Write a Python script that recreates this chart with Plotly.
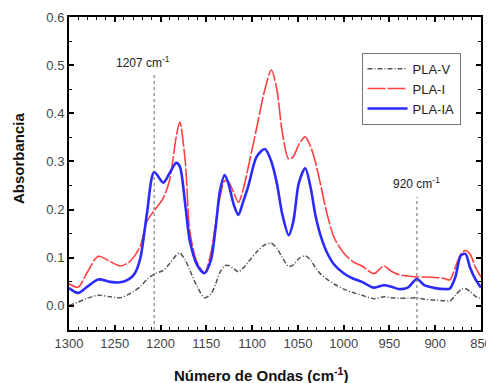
import plotly.graph_objects as go

wavenumber = [1300, 1290, 1280, 1268, 1255, 1244, 1235, 1228, 1222, 1215, 1207, 1197, 1190,
              1183, 1179, 1173, 1168, 1160, 1152, 1145, 1140, 1135, 1130, 1126, 1120, 1115,
              1110, 1104, 1095, 1086, 1079, 1073, 1067, 1060, 1055, 1049, 1042, 1036, 1031,
              1025, 1018, 1010, 1000, 990, 980, 967, 956, 948, 940, 930, 920, 912, 900, 890,
              884, 878, 872, 867, 862, 856, 850]

pla_ia = [0.037, 0.027, 0.040, 0.055, 0.050, 0.049, 0.055, 0.068, 0.100, 0.190, 0.278, 0.256,
          0.276, 0.297, 0.290, 0.210, 0.135, 0.085, 0.068, 0.095, 0.160, 0.240, 0.272, 0.255,
          0.210, 0.189, 0.215, 0.250, 0.310, 0.326, 0.300, 0.255, 0.190, 0.147, 0.175, 0.255,
          0.286, 0.245, 0.190, 0.145, 0.110, 0.085, 0.068, 0.057, 0.050, 0.038, 0.043, 0.040,
          0.035, 0.038, 0.056, 0.043, 0.037, 0.035, 0.036, 0.060, 0.105, 0.108, 0.080, 0.055,
          0.038]

pla_i = [0.046, 0.039, 0.070, 0.103, 0.092, 0.083, 0.090, 0.105, 0.125, 0.175, 0.198, 0.224,
         0.262, 0.350, 0.382, 0.300, 0.155, 0.090, 0.069, 0.110, 0.170, 0.227, 0.260, 0.258,
         0.235, 0.215, 0.240, 0.290, 0.370, 0.450, 0.490, 0.450, 0.360, 0.305, 0.310, 0.335,
         0.351, 0.330, 0.300, 0.250, 0.190, 0.140, 0.110, 0.092, 0.083, 0.067, 0.083, 0.072,
         0.065, 0.062, 0.060, 0.060, 0.059, 0.057, 0.054, 0.080, 0.108, 0.115, 0.108, 0.080,
         0.060]

pla_v = [0.001, 0.008, 0.016, 0.022, 0.019, 0.017, 0.024, 0.032, 0.040, 0.055, 0.066, 0.074,
         0.088, 0.105, 0.110, 0.095, 0.074, 0.040, 0.017, 0.025, 0.045, 0.070, 0.083, 0.084,
         0.077, 0.071, 0.078, 0.092, 0.112, 0.127, 0.130, 0.120, 0.100, 0.082, 0.085, 0.098,
         0.104, 0.095, 0.080, 0.066, 0.055, 0.045, 0.035, 0.028, 0.022, 0.015, 0.019, 0.017,
         0.016, 0.016, 0.017, 0.014, 0.012, 0.011, 0.010, 0.022, 0.034, 0.036, 0.030, 0.020,
         0.015]

marker_lines = [1207, 920]
marker_labels = ["1207 cm<sup>-1</sup>", "920 cm<sup>-1</sup>"]
marker_tops = [0.485, 0.226]
marker_label_y = [0.506, 0.255]

x_major_ticks = [1300, 1250, 1200, 1150, 1100, 1050, 1000, 950, 900, 850]
x_minor_ticks = [w for w in range(850, 1301, 10) if w % 50 != 0]
y_major_ticks = [0.0, 0.1, 0.2, 0.3, 0.4, 0.5, 0.6]
y_minor_ticks = [0.05, 0.15, 0.25, 0.35, 0.45, 0.55]

X_RANGE = [1300, 850]
Y_RANGE = [-0.05, 0.6]

FONT = "Liberation Sans, Arial, sans-serif"
INK = "#000000"

fig = go.Figure()
fig.add_trace(go.Scatter(x=wavenumber, y=pla_v, name="PLA-V", mode="lines",
                         line=dict(color="#555555", width=1.5, dash="5px,2px,1px,2px", shape="spline", smoothing=0.8)))
fig.add_trace(go.Scatter(x=wavenumber, y=pla_i, name="PLA-I", mode="lines",
                         line=dict(color="#ff4040", width=1.6, dash="18px,2px", shape="spline", smoothing=0.8)))
fig.add_trace(go.Scatter(x=wavenumber, y=pla_ia, name="PLA-IA", mode="lines",
                         line=dict(color="#2b2bff", width=2.6, shape="spline", smoothing=0.8)))

for wn, top, lab, ly in zip(marker_lines, marker_tops, marker_labels, marker_label_y):
    fig.add_shape(type="line", x0=wn, x1=wn, y0=Y_RANGE[0], y1=top, xref="x", yref="y",
                  line=dict(color="#666666", width=1, dash="dot"))
    fig.add_annotation(x=wn, y=ly, text=lab, showarrow=False, xref="x", yref="y",
                       xshift=-11 if wn == 1207 else 0,
                       font=dict(family=FONT, size=12, color="#222222"))

fig.add_annotation(text="<b>Número de Ondas (cm<sup>-1</sup>)</b>", xref="paper", yref="paper",
                   x=0.466, y=-0.1406, showarrow=False, xanchor="center", yanchor="middle",
                   font=dict(family=FONT, size=15, color="#111111"))
fig.add_annotation(text="<b>Absorbancia</b>", xref="paper", yref="paper", textangle=-90,
                   x=-0.1238, y=0.5495, showarrow=False, xanchor="center", yanchor="middle",
                   font=dict(family=FONT, size=15, color="#111111"))

axis_common = dict(showgrid=False, zeroline=False, automargin=False,
                   showline=True, linecolor=INK, linewidth=2, mirror="allticks",
                   ticks="inside", ticklen=5, tickwidth=1.5, tickcolor=INK,
                   tickfont=dict(family=FONT, size=13, color="#444444"))

fig.update_layout(
    width=486, height=375, margin=dict(l=61, r=13, t=9, b=53),
    plot_bgcolor="white", paper_bgcolor="white",
    font=dict(family=FONT, size=12, color="#222222"),
    xaxis=dict(range=X_RANGE, tickvals=x_major_ticks,
               minor=dict(tickvals=x_minor_ticks, ticks="inside", ticklen=3, tickwidth=1, tickcolor=INK),
               **axis_common),
    yaxis=dict(range=Y_RANGE, tickvals=y_major_ticks, tickformat=".1f",
               minor=dict(tickvals=y_minor_ticks, ticks="inside", ticklen=3, tickwidth=1, tickcolor=INK),
               **axis_common),
    legend=dict(x=0.71, y=0.886, xanchor="left", yanchor="top",
                bordercolor="#777777", borderwidth=1, bgcolor="white",
                font=dict(family=FONT, size=13, color="#222222"),
                tracegroupgap=0, itemwidth=40),
)

fig.write_html("out.html")
